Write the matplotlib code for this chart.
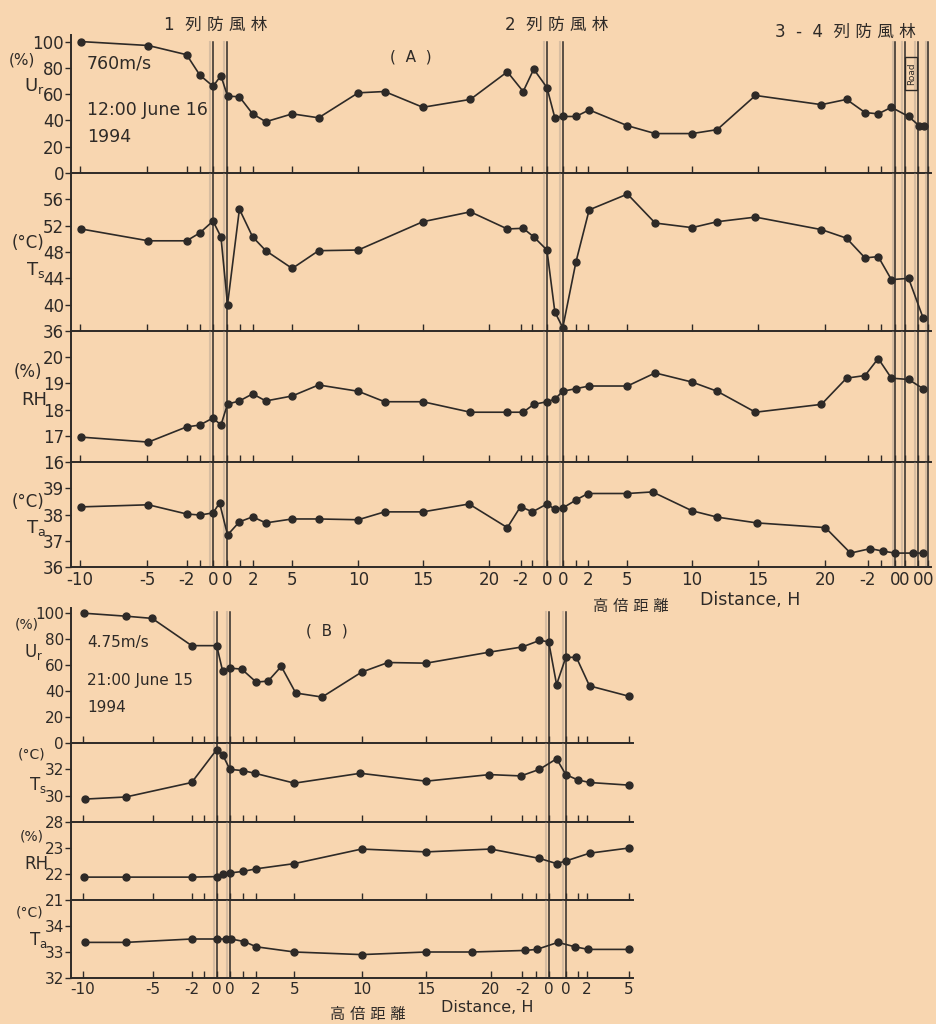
import matplotlib.pyplot as plt
from matplotlib.patches import Rectangle

W, H = 936, 1024
BG = "#f8d6b0"
INK = "#2e2a27"

plt.rcParams["font.family"] = ["DejaVu Sans", "Noto Sans CJK JP"]

# x positions are along the drawn distance axis (1 unit = 1 H);
# belts sit at [0, 1.06], [25.3, 26.5], [51.7, 52.4], road, [53.4, 54.2]

# ---- (A) 12:00 June 16 1994 ----
a_ur_x = [-10, -4.9, -2, -1, 0, 0.6, 1.1, 2.0, 3.0, 4.0, 6.0, 8.0, 11.0, 13.0, 15.9, 19.5,
          22.3, 23.5, 24.3, 25.3, 25.9, 26.5, 27.5, 28.5, 31.4, 33.5, 36.3, 38.2, 41.1, 46.1,
          48.0, 49.4, 50.4, 51.4, 52.7, 53.5, 53.9]
a_ur_y = [100, 97, 90, 74.5, 66, 74, 58.5, 58, 45, 39, 45, 42, 61, 62, 50, 56,
          77, 62, 79, 65, 42, 43, 43, 48, 36, 30, 30, 33, 59, 52,
          56, 46, 45, 50, 43, 36, 36]

a_ts_x = [-10, -4.9, -2, -1, 0, 0.6, 1.1, 2.0, 3.0, 4.0, 6.0, 8.0, 11.0, 15.9, 19.5,
          22.3, 23.5, 24.3, 25.3, 25.9, 26.5, 27.5, 28.5, 31.4, 33.5, 36.3, 38.2, 41.1,
          46.1, 48.0, 49.4, 50.4, 51.4, 52.7, 53.8]
a_ts_y = [51.5, 49.7, 49.7, 50.9, 52.7, 50.3, 40, 54.5, 50.3, 48.2, 45.5, 48.2, 48.3, 52.6, 54.1,
          51.5, 51.6, 50.3, 48.3, 38.9, 36.5, 46.5, 54.4, 56.8, 52.4, 51.7, 52.6, 53.3,
          51.4, 50.1, 47.1, 47.3, 43.8, 44, 38]

a_rh_x = [-10, -4.9, -2, -1, 0, 0.6, 1.1, 2.0, 3.0, 4.0, 6.0, 8.0, 11.0, 13.0, 15.9, 19.5,
          22.3, 23.5, 24.3, 25.3, 25.9, 26.5, 27.5, 28.5, 31.4, 33.5, 36.3, 38.2, 41.1,
          46.1, 48.0, 49.4, 50.4, 51.4, 52.7, 53.8]
a_rh_y = [16.95, 16.76, 17.34, 17.41, 17.68, 17.41, 18.21, 18.33, 18.6, 18.33, 18.52, 18.94,
          18.7, 18.3, 18.3, 17.9, 17.9, 17.9, 18.2, 18.3, 18.4, 18.7, 18.8, 18.9, 18.9,
          19.4, 19.05, 18.7, 17.9, 18.2, 19.2, 19.3, 19.95, 19.2, 19.15, 18.8]

a_ta_x = [-10, -4.9, -2, -1, 0, 0.5, 1.1, 2.0, 3.0, 4.0, 6.0, 8.0, 11.0, 13.0, 15.9, 19.4,
          22.3, 23.3, 24.2, 25.3, 25.9, 26.5, 27.5, 28.4, 31.4, 33.3, 36.3, 38.2, 41.2,
          46.4, 48.3, 49.8, 50.8, 51.7, 53.0, 53.8]
a_ta_y = [38.29, 38.37, 38.02, 37.98, 38.06, 38.44, 37.22, 37.72, 37.91, 37.68, 37.83, 37.83,
          37.8, 38.1, 38.1, 38.4, 37.5, 38.3, 38.1, 38.4, 38.2, 38.25, 38.55, 38.8, 38.8,
          38.86, 38.14, 37.9, 37.68, 37.5, 36.53, 36.7, 36.6, 36.53, 36.53, 36.53]

a_ticks = [-10.1, -5, -2, -1, 0, 1.06, 2.05, 3.03, 6, 11, 15.9, 20.9, 23.3, 24.2, 25.3, 26.5,
           27.5, 28.4, 31.4, 36.3, 41.3, 46.4, 49.6, 50.6, 51.7, 52.4, 53.4, 54.2]
a_labels = ["-10", "-5", "-2", "", "0", "0", "", "2", "5", "10", "15", "20", "-2", "", "0", "0",
            "", "2", "5", "10", "15", "20", "-2", "", "0", "0", "0", "0"]
a_belts = [0, 1.06, 25.3, 26.5, 51.7, 52.4, 53.4, 54.2]

# ---- (B) 21:00 June 15 1994 ----
b_ur_x = [-10.1, -6.9, -4.9, -1.9, 0, 0.45, 1.0, 1.9, 3.0, 3.9, 4.9, 6.0, 8.0, 11.0, 13.0,
          15.9, 20.7, 23.2, 24.5, 25.2, 25.8, 26.5, 27.3, 28.3, 31.3]
b_ur_y = [100, 97.7, 96, 75, 75, 55.4, 57.7, 56.9, 46.9, 47.7, 59, 38.5, 35.4, 54.6, 62,
          61.5, 70, 74, 79, 78, 45, 66, 66, 44, 36]

b_ts_x = [-10, -6.9, -1.9, 0, 0.45, 1.0, 2.0, 2.9, 5.9, 10.9, 15.9, 20.7, 23.1, 24.5, 25.8,
          26.5, 27.4, 28.3, 31.3]
b_ts_y = [29.74, 29.9, 31.0, 33.5, 33.1, 32.0, 31.9, 31.7, 30.95, 31.7, 31.1, 31.6, 31.5,
          32.0, 32.8, 31.6, 31.2, 31.0, 30.8]

b_rh_x = [-10.1, -6.9, -1.9, 0, 0.45, 1.0, 2.0, 3.0, 5.9, 11.0, 15.9, 20.8, 24.5, 25.8, 26.5,
          28.3, 31.3]
b_rh_y = [21.88, 21.88, 21.88, 21.9, 22.0, 22.04, 22.1, 22.2, 22.4, 22.96, 22.85, 22.96, 22.6,
          22.4, 22.5, 22.8, 23.0]

b_ta_x = [-10, -6.9, -1.9, 0, 0.7, 1.1, 2.1, 3.0, 5.9, 11.0, 15.9, 19.4, 23.4, 24.3, 25.9,
          27.2, 28.2, 31.3]
b_ta_y = [33.37, 33.37, 33.5, 33.5, 33.5, 33.5, 33.4, 33.2, 33.0, 32.9, 33.0, 33.0, 33.06,
          33.1, 33.37, 33.2, 33.1, 33.1]

b_ticks = [-10.15, -4.85, -1.9, -1, 0, 1.0, 1.97, 2.95, 5.9, 11, 15.9, 20.8, 23.2, 24.2, 25.2,
           26.5, 27.4, 28.1, 31.3]
b_labels = ["-10", "-5", "-2", "", "0", "0", "", "2", "5", "10", "15", "20", "-2", "", "0",
            "0", "", "2", "5"]
b_belts = [0, 1.0, 25.2, 26.5]


fig = plt.figure(figsize=(W / 100, H / 100), dpi=100, facecolor=BG)


def fx(px):
    return px / W


def fy(py):
    return 1 - py / H


def add_panel(left, top, right, bottom, size):
    ax = fig.add_axes([fx(left), fy(bottom), (right - left) / W, (bottom - top) / H])
    ax.set_facecolor("none")
    ax.spines["top"].set_visible(False)
    ax.spines["right"].set_visible(False)
    for s in ("left", "bottom"):
        ax.spines[s].set_color(INK)
        ax.spines[s].set_linewidth(1.4)
    ax.tick_params(axis="y", direction="out", length=4, width=1, colors=INK,
                   labelsize=size, pad=1)
    ax.tick_params(axis="x", direction="in", length=5, width=1, colors=INK,
                   labelsize=size, pad=3)
    return ax


def draw_group(rows, left, right, xlim, ticks, labels, belts, belt_top, size):
    axes = []
    for i, (top, bottom, ylim, yticks, xs, ys) in enumerate(rows):
        ax = add_panel(left, top, right, bottom, size)
        ax.set_xlim(*xlim)
        ax.set_ylim(*ylim)
        ax.set_yticks(yticks)
        ax.set_xticks(ticks)
        last = i == len(rows) - 1
        ax.set_xticklabels(labels if last else [""] * len(ticks))
        ax.plot(xs, ys, color=INK, lw=1.2, marker="o", ms=5, mfc=INK, mec=INK, zorder=3)
        ymax = belt_top if i == 0 else 1.0
        for b in belts:
            ax.axvline(b, ymin=0, ymax=ymax, color=INK, lw=1.1, zorder=2)
            ax.axvline(b - 0.2, ymin=0, ymax=ymax, color="#9a8f85", lw=1.5, alpha=0.35, zorder=1)
        axes.append(ax)
    return axes


a_rows = [
    (35, 173, (0, 105), [0, 20, 40, 60, 80, 100], a_ur_x, a_ur_y),
    (173, 331, (36, 60), [36, 40, 44, 48, 52, 56], a_ts_x, a_ts_y),
    (331, 462, (16, 21), [16, 17, 18, 19, 20], a_rh_x, a_rh_y),
    (462, 567, (36, 40), [36, 37, 38, 39], a_ta_x, a_ta_y),
]
axA = draw_group(a_rows, 71, 931, (-10.76, 54.4), a_ticks, a_labels, a_belts, 0.95, 12)

b_rows = [
    (608, 743, (0, 104), [0, 20, 40, 60, 80, 100], b_ur_x, b_ur_y),
    (743, 822, (28, 34), [28, 30, 32], b_ts_x, b_ts_y),
    (822, 900, (21, 24), [21, 22, 23], b_rh_x, b_rh_y),
    (900, 978, (32, 35), [32, 33, 34], b_ta_x, b_ta_y),
]
axB = draw_group(b_rows, 71, 633, (-11.06, 31.6), b_ticks, b_labels, b_belts, 0.97, 11)

# road box between belts 3 and 4
road = Rectangle((52.45, 63), 0.9, 25, fill=False, ec=INK, lw=1.0, zorder=4)
axA[0].add_patch(road)
axA[0].text(52.9, 75.5, "Road", rotation=90, ha="center", va="center", fontsize=6.5, color=INK)


def label(px, py, s, size=12, **kw):
    fig.text(fx(px), fy(py), s, fontsize=size, color=INK, ha="center", va="center", **kw)


# axis unit labels
label(22, 60, "(%)", 11)
label(34, 86, r"U$_\mathrm{r}$", 13)
label(28, 243, "(°C)", 12)
label(36, 270, r"T$_\mathrm{s}$", 13)
label(28, 372, "(%)", 12)
label(34, 400, "RH", 13)
label(28, 502, "(°C)", 12)
label(36, 528, r"T$_\mathrm{a}$", 13)

label(27, 625, "(%)", 10)
label(34, 652, r"U$_\mathrm{r}$", 12)
label(32, 755, "(°C)", 10)
label(38, 785, r"T$_\mathrm{s}$", 12)
label(32, 837, "(%)", 10)
label(36, 864, "RH", 12)
label(30, 913, "(°C)", 10)
label(38, 940, r"T$_\mathrm{a}$", 12)

# annotations
for py, s in [(63, "760m/s"), (110, "12:00 June 16"), (137, "1994")]:
    fig.text(fx(87), fy(py), s, fontsize=12.5, color=INK, ha="left", va="center")
for py, s in [(642, "4.75m/s"), (680, "21:00 June 15"), (708, "1994")]:
    fig.text(fx(87), fy(py), s, fontsize=11, color=INK, ha="left", va="center")

label(216, 25, "1  列 防 風 林", 12)
label(557, 25, "2  列 防 風 林", 12)
label(845, 32, "3  -  4  列 防 風 林", 12)
label(411, 57, "(  A  )", 11)
label(327, 631, "(  B  )", 11)

label(631, 607, "高 倍 距 離", 11)
label(750, 600, "Distance, H", 12.5)
label(368, 1014, "高 倍 距 離", 11)
label(487, 1008, "Distance, H", 11.5)

fig.savefig("out.png", dpi=100, facecolor=BG)
